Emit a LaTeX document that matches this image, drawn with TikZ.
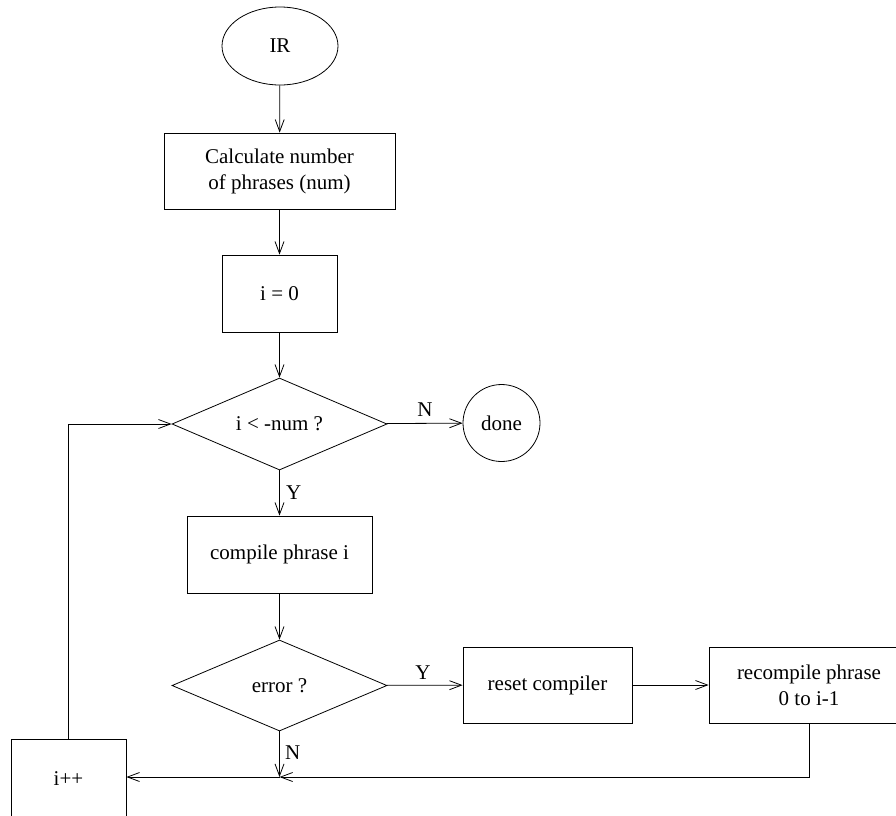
\documentclass[tikz,border=0pt]{standalone}
\usepackage{fontspec}
\setmainfont{Liberation Serif}
\usepackage{tikz}
\usetikzlibrary{arrows.meta,shapes.geometric}
\tikzset{
  stepBox/.style={draw, rectangle, line width=0.8pt, align=center, inner sep=0pt, font=\fontsize{21}{26}\selectfont},
  testBox/.style={draw, diamond, aspect=2.3, line width=0.8pt, inner sep=0pt, font=\fontsize{21}{26}\selectfont},
  endBox/.style={draw, line width=0.8pt, inner sep=0pt, font=\fontsize{21}{26}\selectfont},
  flowArrow/.style={-{Straight Barb[length=12pt,width=9pt]}, line width=0.8pt},
  flowLine/.style={line width=0.8pt},
  flowLabel/.style={font=\fontsize{21}{26}\selectfont, inner sep=0pt}
}

\begin{document}
\begin{tikzpicture}[x=1pt,y=-1pt]
  \useasboundingbox (0,0) rectangle (896,815);
  % nodes of the chart
  \node[endBox, ellipse, minimum width=116pt, minimum height=78pt] (ir) at (280,46){IR};
  \node[stepBox, minimum width=231pt, minimum height=76pt] (calc) at (279.5,171){Calculate number\\of phrases (num)};
  \node[stepBox, minimum width=115pt, minimum height=77pt] (init) at (279.5,293.5){i = 0};
  \node[testBox, minimum width=215pt, minimum height=92pt] (test) at (279.5,424){i < -num ?};
  \node[endBox, circle, minimum size=77pt] (done) at (501.5,423){done};
  \node[stepBox, minimum width=185pt, minimum height=77pt] (body) at (279.5,554.5){compile phrase i};
  \node[testBox, minimum width=215pt, minimum height=91pt] (err) at (279.5,685.5){error ?};
  \node[stepBox, minimum width=169pt, minimum height=76pt] (reset) at (547.5,685){reset compiler};
  \node[stepBox, minimum width=200pt, minimum height=76pt] (redo) at (809,685){recompile phrase\\0 to i-1};
  \node[stepBox, minimum width=115pt, minimum height=80pt] (incr) at (68.5,779){i++};
  \coordinate (join) at (279.5,777);
  \coordinate (back) at (68.5,424);

  % connectors
  \draw[flowArrow] (ir) -- (calc);
  \draw[flowArrow] (calc) -- (init);
  \draw[flowArrow] (init) -- (test);
  \draw[flowArrow] (test) -- (done);
  \draw[flowArrow] (test) -- (body);
  \draw[flowArrow] (body) -- (err);
  \draw[flowArrow] (err) -- (reset);
  \draw[flowArrow] (reset) -- (redo);
  \draw[flowArrow] (err) -- (join);
  \draw[flowArrow] (redo.south) |- (join);
  \draw[flowArrow] (join) -- (incr.east |- join);
  \draw[flowLine] (incr) -- (back);
  \draw[flowArrow] (back) -- (test);

  % branch labels
  \node[flowLabel] (tN) at (425,410){N};
  \node[flowLabel, anchor=west] (tY) at (286,493){Y};
  \node[flowLabel] (eY) at (423,673){Y};
  \node[flowLabel, anchor=west] (eN) at (285,753){N};
\end{tikzpicture}
\end{document}
